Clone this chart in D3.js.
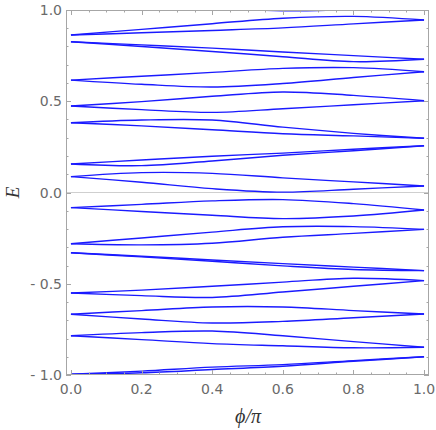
<!DOCTYPE html>
<html>
<head>
<meta charset="utf-8">
<script src="https://cdn.jsdelivr.net/npm/d3@7.9.0/dist/d3.min.js"></script>
<style>
  html, body { margin: 0; padding: 0; background: #fff; }
  svg { display: block; }
</style>
</head>
<body>
<div id="viz"></div>
<script>
// phi/pi sample positions shared by every band
const phi = [0, 0.2, 0.4, 0.6, 0.8, 1];

// energy levels E(phi), pairs meet at phi=0 and phi=pi
const levels = [
  [0.863, 0.894, 0.925, 0.955, 0.965, 0.945],
  [0.863, 0.875, 0.888, 0.902, 0.924, 0.945],
  [0.826, 0.809, 0.791, 0.770, 0.750, 0.730],
  [0.826, 0.800, 0.773, 0.744, 0.717, 0.730],
  [0.616, 0.637, 0.658, 0.680, 0.684, 0.662],
  [0.616, 0.593, 0.578, 0.597, 0.630, 0.662],
  [0.474, 0.498, 0.527, 0.551, 0.532, 0.503],
  [0.474, 0.454, 0.439, 0.459, 0.481, 0.503],
  [0.382, 0.397, 0.397, 0.358, 0.324, 0.297],
  [0.382, 0.365, 0.344, 0.322, 0.310, 0.297],
  [0.156, 0.178, 0.199, 0.216, 0.237, 0.256],
  [0.156, 0.147, 0.173, 0.204, 0.229, 0.256],
  [0.087, 0.109, 0.105, 0.080, 0.058, 0.036],
  [0.087, 0.056, 0.021, 0.002, 0.018, 0.036],
  [-0.083, -0.065, -0.046, -0.039, -0.061, -0.096],
  [-0.083, -0.104, -0.125, -0.143, -0.129, -0.096],
  [-0.281, -0.249, -0.217, -0.188, -0.187, -0.202],
  [-0.281, -0.287, -0.278, -0.245, -0.224, -0.202],
  [-0.330, -0.349, -0.370, -0.390, -0.409, -0.428],
  [-0.330, -0.353, -0.377, -0.402, -0.422, -0.428],
  [-0.551, -0.535, -0.514, -0.491, -0.470, -0.483],
  [-0.551, -0.565, -0.575, -0.545, -0.514, -0.483],
  [-0.667, -0.647, -0.627, -0.627, -0.647, -0.666],
  [-0.667, -0.693, -0.715, -0.706, -0.686, -0.666],
  [-0.785, -0.768, -0.759, -0.785, -0.817, -0.848],
  [-0.785, -0.806, -0.828, -0.840, -0.851, -0.848],
  [-0.996, -0.979, -0.957, -0.943, -0.921, -0.900],
  [-0.996, -0.988, -0.970, -0.952, -0.925, -0.900]
];

// the next band up only dips into view near the top edge
const topPhi = [0.4, 0.5, 0.6, 0.7, 0.8, 0.9];
const topLevel = [1.016, 1.002, 0.9955, 0.9966, 1.005, 1.022];

const xMajor = [0, 0.2, 0.4, 0.6, 0.8, 1];
const xLabels = ["0.0", "0.2", "0.4", "0.6", "0.8", "1.0"];
const yMajor = [-1, -0.5, 0, 0.5, 1];
const yLabels = ["- 1.0", "- 0.5", "0.0", "0.5", "1.0"];

const width = 436, height = 430;
const frame = { left: 66, right: 429, top: 10, bottom: 375 };

const svg = d3.select("#viz").append("svg")
  .attr("width", width)
  .attr("height", height);

const x = d3.scaleLinear().domain([-0.014, 1.014]).range([frame.left, frame.right]);
const y = d3.scaleLinear().domain([-1, 1]).range([frame.bottom, frame.top]);

svg.append("clipPath").attr("id", "plotClip")
  .append("rect")
  .attr("x", frame.left).attr("y", frame.top)
  .attr("width", frame.right - frame.left)
  .attr("height", frame.bottom - frame.top);

// E = 0 axis
svg.append("line")
  .attr("x1", frame.left).attr("x2", frame.right)
  .attr("y1", y(0)).attr("y2", y(0))
  .attr("stroke", "#cfcfcf")
  .attr("stroke-width", 1);

const line = d3.line()
  .x(d => x(d[0]))
  .y(d => y(d[1]))
  .curve(d3.curveCatmullRom.alpha(0.5));

const curves = svg.append("g").attr("clip-path", "url(#plotClip)");

curves.selectAll("path.band")
  .data(levels)
  .join("path")
  .attr("class", "band")
  .attr("d", vals => line(vals.map((v, i) => [phi[i], v])))
  .attr("fill", "none")
  .attr("stroke", "#1a1aff")
  .attr("stroke-width", 1.4);

curves.append("path")
  .attr("d", line(topLevel.map((v, i) => [topPhi[i], v])))
  .attr("fill", "none")
  .attr("stroke", "#1a1aff")
  .attr("stroke-width", 1.4);

// frame
const frameColor = "#a6a6a6";
svg.append("rect")
  .attr("x", frame.left + 0.5).attr("y", frame.top + 0.5)
  .attr("width", frame.right - frame.left - 1)
  .attr("height", frame.bottom - frame.top - 1)
  .attr("fill", "none")
  .attr("stroke", frameColor)
  .attr("stroke-width", 1);

// ticks, inward on all four sides
const xMinor = d3.range(0, 1.0001, 0.05).filter(v => !xMajor.some(m => Math.abs(m - v) < 1e-6));
const yMinor = d3.range(-1, 1.0001, 0.1).filter(v => !yMajor.some(m => Math.abs(m - v) < 1e-6));

const ticks = svg.append("g").attr("stroke", frameColor).attr("stroke-width", 1);

function xTicks(vals, len) {
  vals.forEach(v => {
    const px = Math.round(x(v)) + 0.5;
    ticks.append("line").attr("x1", px).attr("x2", px)
      .attr("y1", frame.bottom).attr("y2", frame.bottom - len);
    ticks.append("line").attr("x1", px).attr("x2", px)
      .attr("y1", frame.top).attr("y2", frame.top + len);
  });
}
function yTicks(vals, len) {
  vals.forEach(v => {
    const py = Math.round(y(v)) + 0.5;
    ticks.append("line").attr("y1", py).attr("y2", py)
      .attr("x1", frame.left).attr("x2", frame.left + len);
    ticks.append("line").attr("y1", py).attr("y2", py)
      .attr("x1", frame.right).attr("x2", frame.right - len);
  });
}
xTicks(xMajor, 5);
xTicks(xMinor, 2.5);
yTicks(yMajor, 5);
yTicks(yMinor, 2.5);

// tick labels
const labelFont = "'DejaVu Sans', sans-serif";
svg.append("g")
  .selectAll("text")
  .data(xMajor)
  .join("text")
  .attr("x", d => x(d))
  .attr("y", 394)
  .attr("text-anchor", "middle")
  .attr("font-family", labelFont)
  .attr("font-size", 14)
  .attr("fill", "#6a6a6a")
  .text((d, i) => xLabels[i]);

svg.append("g")
  .selectAll("text")
  .data(yMajor)
  .join("text")
  .attr("x", 62)
  .attr("y", d => y(d))
  .attr("dy", "0.36em")
  .attr("text-anchor", "end")
  .attr("font-family", labelFont)
  .attr("font-size", 14)
  .attr("fill", "#6a6a6a")
  .text((d, i) => yLabels[i]);

// axis labels
svg.append("text")
  .attr("x", 248)
  .attr("y", 423)
  .attr("text-anchor", "middle")
  .attr("font-family", "'Liberation Serif', serif")
  .attr("font-style", "italic")
  .attr("font-size", 20)
  .attr("fill", "#333")
  .text("ϕ/π");

svg.append("text")
  .attr("transform", `translate(19,${y(0)}) rotate(-90)`)
  .attr("text-anchor", "middle")
  .attr("font-family", "'Liberation Serif', serif")
  .attr("font-style", "italic")
  .attr("font-size", 19)
  .attr("fill", "#333")
  .text("E");
</script>
</body>
</html>
